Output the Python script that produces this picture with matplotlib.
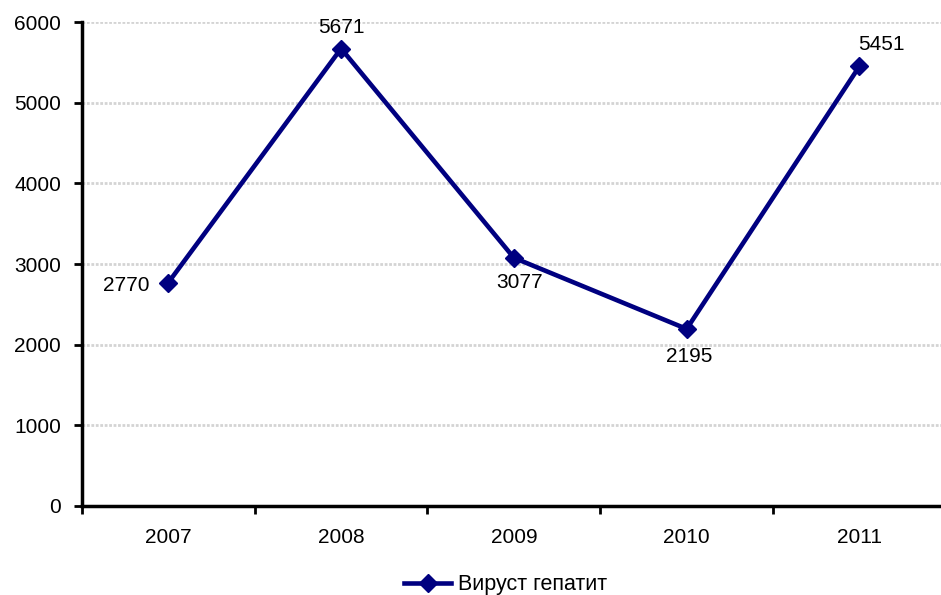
import numpy as np
import matplotlib.pyplot as plt

plt.rcParams['font.family'] = ['Liberation Sans', 'DejaVu Sans']

years = ['2007', '2008', '2009', '2010', '2011']
cases = [2770, 5671, 3077, 2195, 5451]
series_name = 'Вируст гепатит'

# label offsets (points) relative to each marker
label_off = [(-30, -2), (0, 15), (4, -18), (2, -20), (16, 16)]

fig = plt.figure(figsize=(9.41, 5.95), dpi=100)
ax = fig.add_axes([0.0871, 0.1496, 0.918, 0.8134])

x = np.arange(len(years))
ax.plot(x, cases, color='#000080', lw=3.3, marker='D', ms=9,
        label=series_name, zorder=3, clip_on=False)

for xi, v, (dx, dy) in zip(x, cases, label_off):
    ax.annotate(str(v), (xi, v), xytext=(dx, dy), textcoords='offset points',
                ha='center', va='center', fontsize=15)

ax.set_xlim(-0.5, len(years) - 0.5)
ax.set_ylim(0, 6000)
ax.set_yticks(np.arange(0, 6001, 1000))
ax.set_xticks(x)
ax.set_xticklabels(years)
ax.set_xticks(np.arange(-0.5, len(years), 1), minor=True)
ax.tick_params(axis='x', which='major', length=0, pad=16, labelsize=15)
ax.tick_params(axis='x', which='minor', length=6, width=2, direction='out')
ax.tick_params(axis='y', length=6, width=2, labelsize=15, pad=9)

ax.yaxis.grid(True, color='#d4d4d4', lw=2, ls=(0, (1, 0.6)))
ax.set_axisbelow(True)
for s in ['top', 'right']:
    ax.spines[s].set_visible(False)
for s in ['left', 'bottom']:
    ax.spines[s].set_linewidth(2.5)

fig.legend(loc='lower center', bbox_to_anchor=(0.537, -0.033), frameon=False,
           fontsize=15.5, handlelength=2.2, handletextpad=0.3)

fig.savefig('out.png', dpi=100)
